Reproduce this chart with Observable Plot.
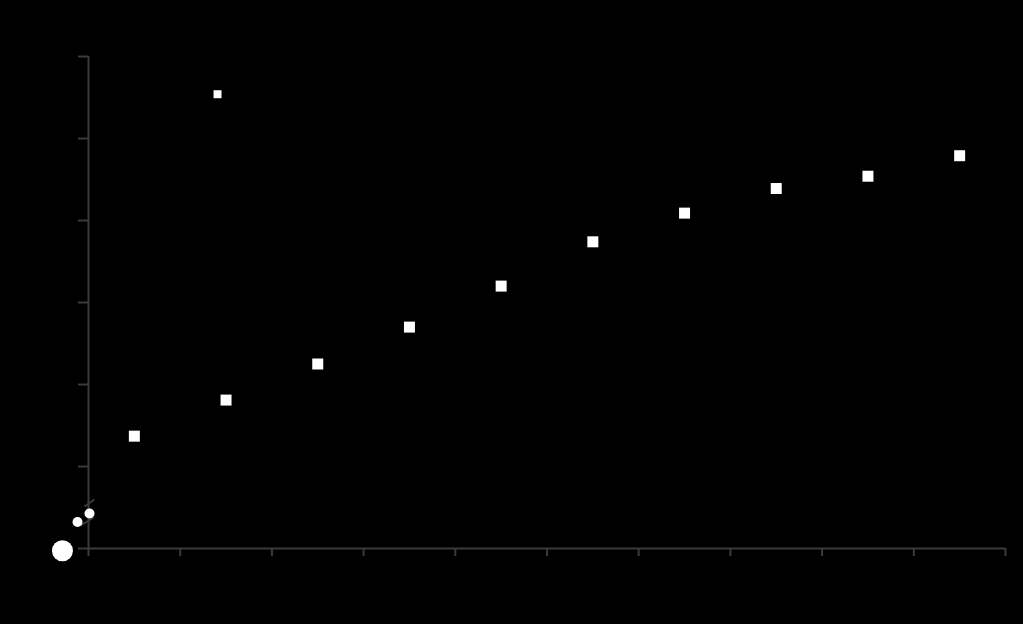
<!DOCTYPE html>
<html>
<head>
<meta charset="utf-8">
<script src="https://cdn.jsdelivr.net/npm/d3@7"></script>
<script src="https://cdn.jsdelivr.net/npm/@observablehq/plot@0.6"></script>
<style>
  html, body { margin: 0; padding: 0; background: #000; }
  #chart svg { display: block; }
</style>
</head>
<body>
<div id="chart"></div>
<script>
// Category positions (band centres on a 0–10 axis) and values
const categories = [0.5, 1.5, 2.5, 3.5, 4.5, 5.5, 6.5, 7.5, 8.5, 9.5];
const values = [13.7, 18.1, 22.5, 27.0, 32.0, 37.4, 40.9, 43.9, 45.4, 47.9];
const xTicks = [0, 1, 2, 3, 4, 5, 6, 7, 8, 9, 10];
const yTicks = [0, 10, 20, 30, 40, 50, 60];

// Marker/legend-like annotations, in data units
const bigCircle = [{x: -0.284, y: -0.28}];
const smallSquare = [{x: 1.407, y: 55.4}];
const breakDots = [{x: -0.12, y: 3.23}, {x: 0.011, y: 4.27}];
const breakLines = [
  {x1: -0.044, y1: 5.12, x2: 0.065, y2: 5.98},
  {x1: -0.087, y1: 2.8, x2: 0.055, y2: 3.78}
];

const points = categories.map((c, i) => ({x: c, y: values[i]}));
const axisColor = "#3a3a3a";

const chart = Plot.plot({
  width: 1023,
  height: 624,
  marginLeft: 88,
  marginRight: 18,
  marginTop: 56,
  marginBottom: 76,
  style: {background: "#000", color: "#000"},
  x: {domain: [0, 10], axis: null},
  y: {domain: [0, 60], axis: null},
  marks: [
    Plot.ruleY([0], {stroke: axisColor, strokeWidth: 2}),
    Plot.ruleX([0], {stroke: axisColor, strokeWidth: 2}),
    Plot.axisX(xTicks, {tickSize: 8, tickFormat: () => "", stroke: axisColor, strokeWidth: 2, label: null}),
    Plot.axisY(yTicks, {tickSize: 10, tickFormat: () => "", stroke: axisColor, strokeWidth: 2, label: null}),
    Plot.link(breakLines, {x1: "x1", y1: "y1", x2: "x2", y2: "y2", stroke: axisColor, strokeWidth: 2}),
    Plot.dot(breakDots, {x: "x", y: "y", r: 5, fill: "#fff"}),
    Plot.dot(bigCircle, {x: "x", y: "y", r: 10.5, fill: "#fff"}),
    Plot.dot(smallSquare, {x: "x", y: "y", symbol: "square", r: 4.5, fill: "#fff"}),
    Plot.dot(points, {x: "x", y: "y", symbol: "square", r: 6.2, fill: "#fff"})
  ]
});
document.getElementById("chart").appendChild(chart);
</script>
</body>
</html>
